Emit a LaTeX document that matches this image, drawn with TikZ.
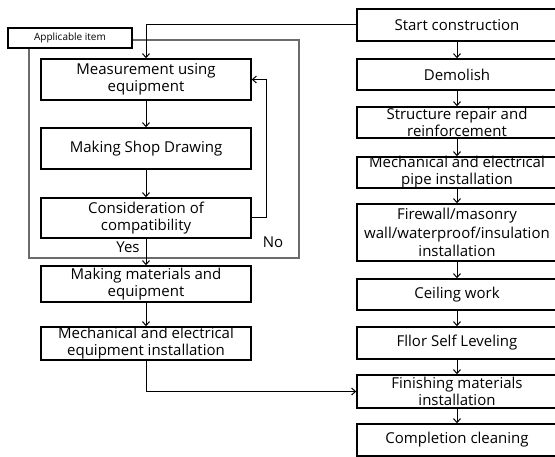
\documentclass[tikz,border=0pt]{standalone}
\usepackage{fontspec}
\setmainfont{Open Sans}
\usetikzlibrary{arrows.meta}
\begin{document}
\begin{tikzpicture}[x=1pt,y=-1pt,
  box/.style={draw=black,line width=1.4pt,fill=white,minimum width=210pt,inner sep=0pt},
  rbox/.style={box,minimum width=200pt},
  txt/.style={font=\fontsize{15}{17}\selectfont,align=center,inner sep=0pt},
  flow/.style={line width=1pt,-{Straight Barb[length=4pt,width=7pt,line width=1pt]}},
  link/.style={line width=1pt}]
\useasboundingbox (0,0) rectangle (555,457);

% grey frame around the shop-drawing loop
\draw[line width=1.3pt,draw=black!58] (29,40) rectangle (299,258);
\node[draw=black,line width=1.4pt,fill=white,minimum width=124pt,minimum height=20pt,inner sep=0pt,
      font=\fontsize{10}{12}\selectfont] (app) at (70,38) {Applicable item};

% left column
\node[box,minimum height=41pt,label={[txt]center:Measurement using\\equipment}] (meas) at (146,79.5) {};
\node[box,minimum height=41pt,label={[txt]center:Making Shop Drawing}] (shop) at (146,148.5) {};
\node[box,minimum height=40pt,label={[txt]center:Consideration of\\compatibility}] (cons) at (146,218) {};
\node[box,minimum height=36pt,label={[txt]center:Making materials and\\equipment}] (mat) at (146,284) {};
\node[box,minimum height=33pt,label={[txt]center:Mechanical and electrical\\equipment installation}] (mech) at (146,343.5) {};

% right column
\node[rbox,minimum height=32pt,label={[txt]center:Start construction}] (start) at (457,25) {};
\node[rbox,minimum height=31pt,label={[txt]center:Demolish}] (demo) at (457,74.5) {};
\node[rbox,minimum height=31pt,label={[txt]center:Structure repair and\\reinforcement}] (struc) at (457,122.5) {};
\node[rbox,minimum height=31pt,label={[txt]center:Mechanical and electrical\\pipe installation}] (pipe) at (457,172.5) {};
\node[rbox,minimum height=57pt,label={[txt,font=\fontsize{15}{18.5}\selectfont]center:Firewall/masonry\\wall/waterproof/insulation\\installation}] (fire) at (457,232.5) {};
\node[rbox,minimum height=31pt,label={[txt]center:Ceiling work}] (ceil) at (457,294.5) {};
\node[rbox,minimum height=32pt,label={[txt]center:Fllor Self Leveling}] (floor) at (457,343) {};
\node[rbox,minimum height=33pt,label={[txt]center:Finishing materials\\installation}] (fin) at (457,391.5) {};
\node[rbox,minimum height=32pt,label={[txt]center:Completion cleaning}] (clean) at (457,440) {};

% labels of the decision
\node[txt] (yes) at (128,247) {Yes};
\node[txt] (no) at (273,242) {No};

% left flow
\draw[flow] (start.west) -| (meas.north);
\draw[flow] (meas) -- (shop);
\draw[flow] (shop) -- (cons);
\draw[flow] (cons) -- (mat);
\draw[flow] (mat) -- (mech);
\draw[flow] (cons.east) -- ++(15,0) |- (meas.east);
\draw[flow] (mech.south) |- (fin.west);

% right flow
\draw[flow] (start) -- (demo);
\draw[flow] (demo) -- (struc);
\draw[flow] (struc) -- (pipe);
\draw[flow] (pipe) -- (fire);
\draw[flow] (fire) -- (ceil);
\draw[flow] (ceil) -- (floor);
\draw[flow] (floor) -- (fin);
\draw[flow] (fin) -- (clean);
\end{tikzpicture}
\end{document}
